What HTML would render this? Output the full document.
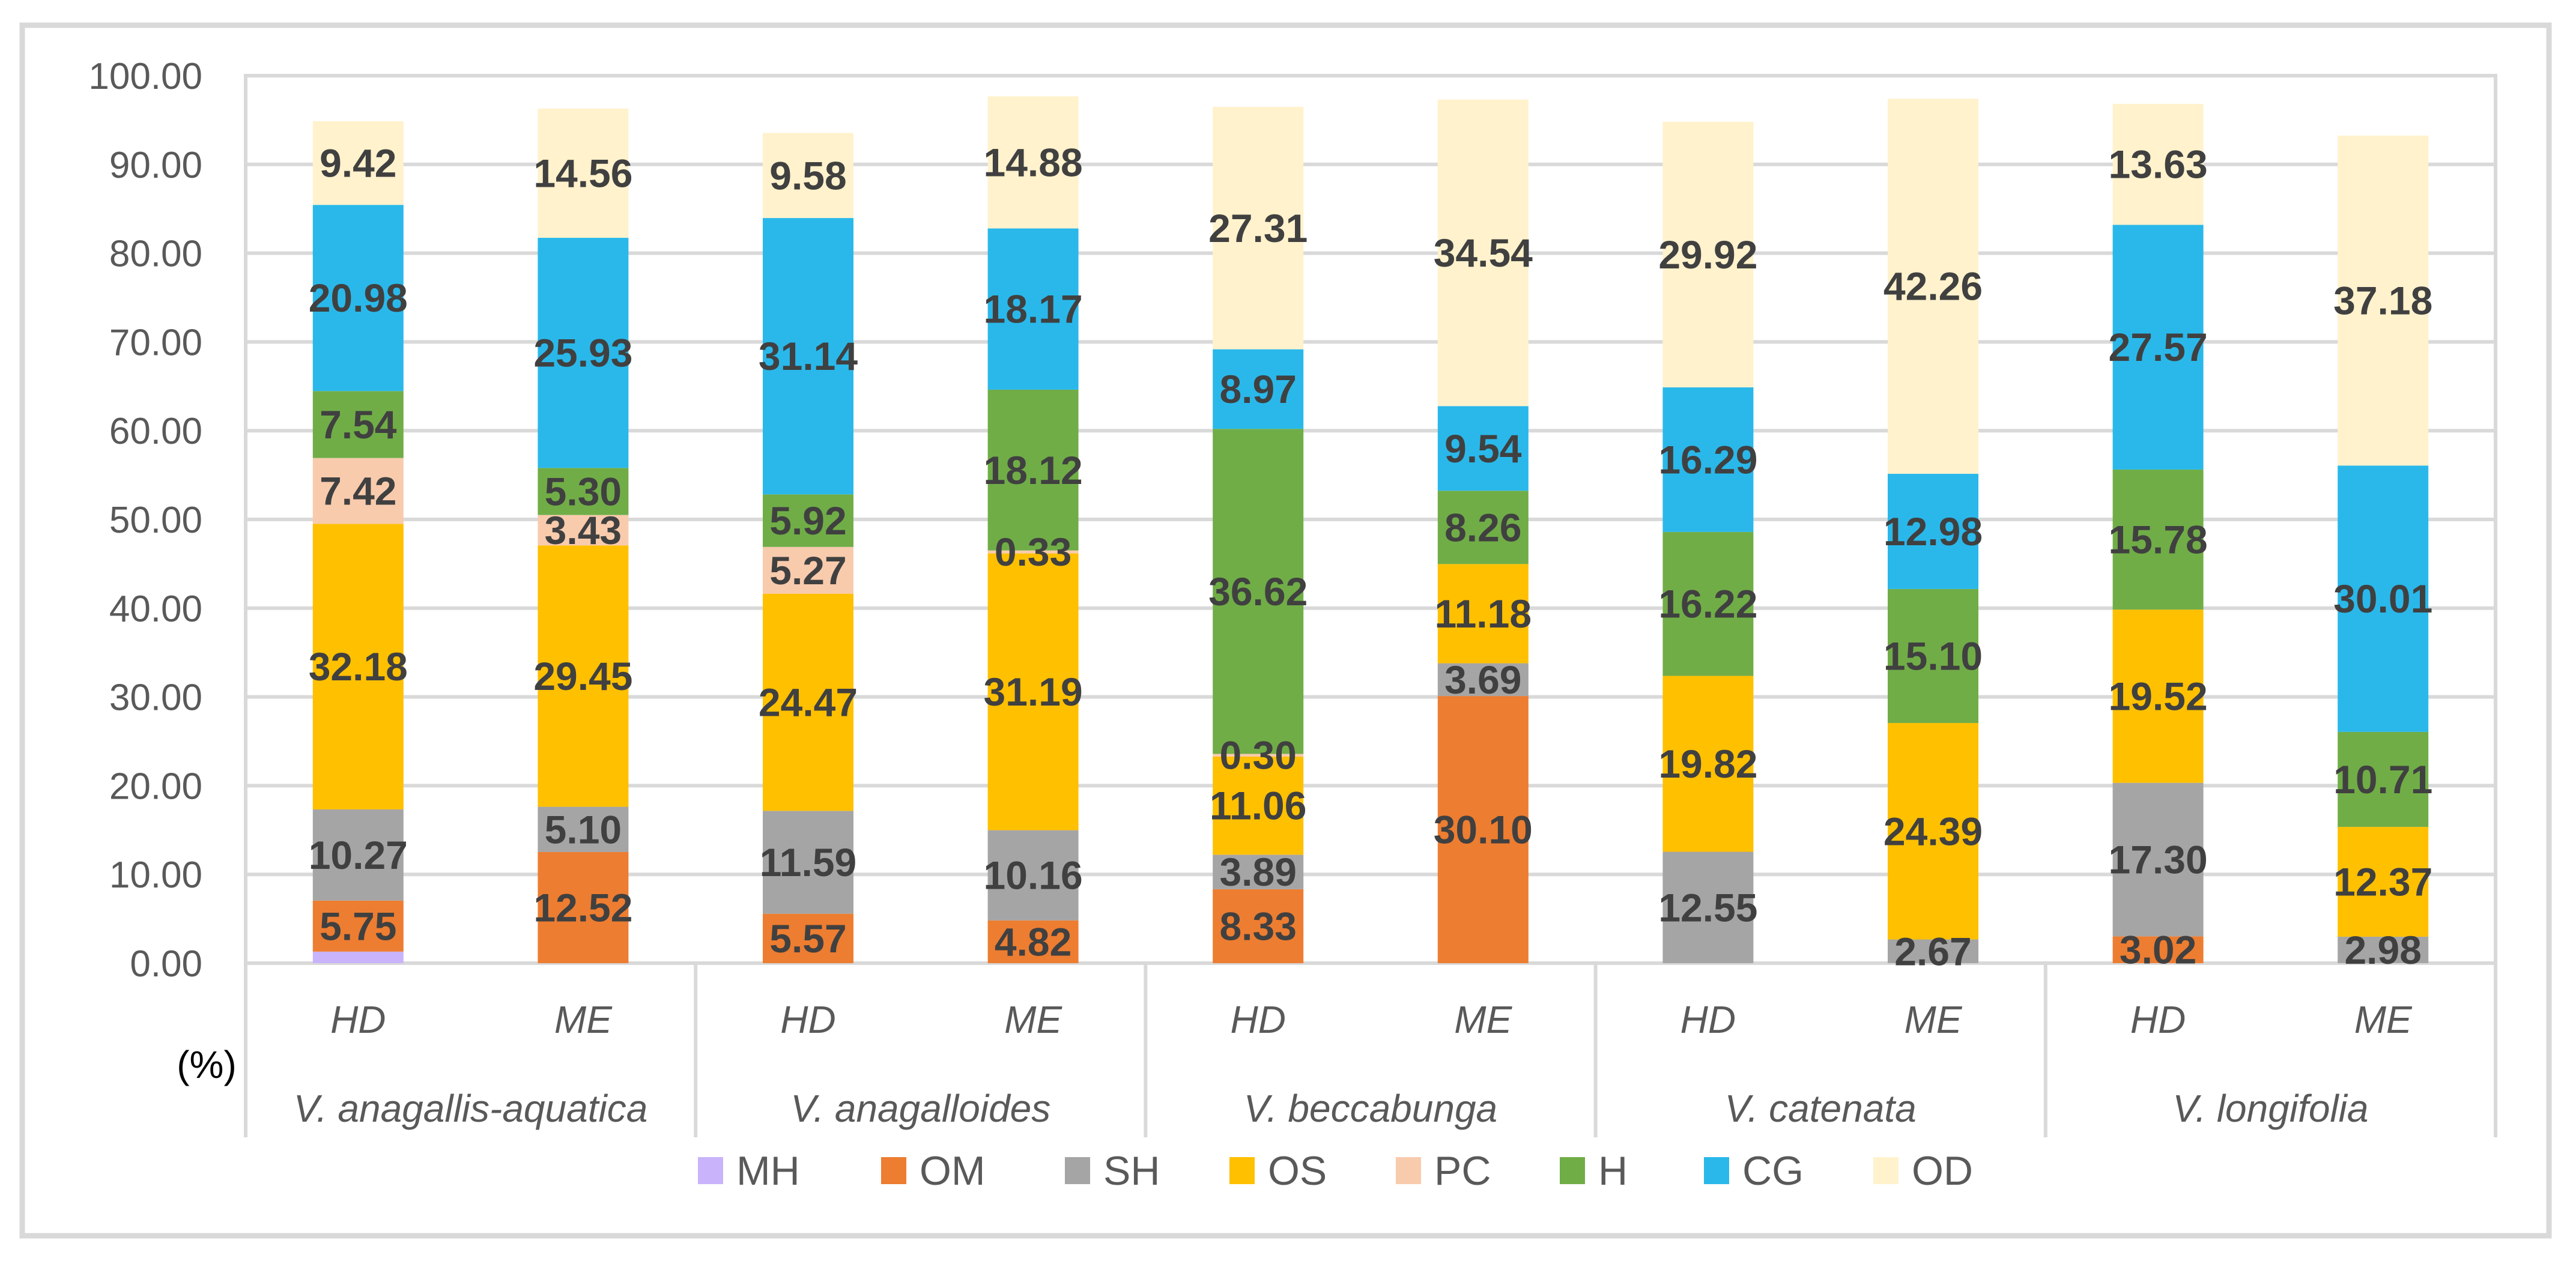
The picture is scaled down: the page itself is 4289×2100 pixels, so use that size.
<!DOCTYPE html>
<html><head><meta charset="utf-8"><style>
html,body{margin:0;padding:0;background:#fff;}
svg{display:block;font-family:"Liberation Sans",sans-serif;}
</style></head><body>
<svg id="chart" width="4289" height="2100" viewBox="0 0 4289 2100" xmlns="http://www.w3.org/2000/svg">
<rect x="37" y="42" width="4207" height="2016" fill="#fff" stroke="#d9d9d9" stroke-width="9"/>
<g id="grid"></g><g id="bars"></g><g id="labels"></g><g id="axes"></g><g id="legend"></g>
<text x="344" y="1795" font-size="64" fill="#000" text-anchor="middle">(%)</text>
</svg>
<script>
const categories = ["HD","ME","HD","ME","HD","ME","HD","ME","HD","ME"];
const species = ["V. anagallis-aquatica","V. anagalloides","V. beccabunga","V. catenata","V. longifolia"];
const seriesNames = ["MH","OM","SH","OS","PC","H","CG","OD"];
const MH = [1.3,0,0,0,0,0,0,0,0,0];
const OM = [5.75,12.52,5.57,4.82,8.33,30.10,0,0,3.02,0];
const SH = [10.27,5.10,11.59,10.16,3.89,3.69,12.55,2.67,17.30,2.98];
const OS = [32.18,29.45,24.47,31.19,11.06,11.18,19.82,24.39,19.52,12.37];
const PC = [7.42,3.43,5.27,0.33,0.30,0,0,0,0,0];
const H  = [7.54,5.30,5.92,18.12,36.62,8.26,16.22,15.10,15.78,10.71];
const CG = [20.98,25.93,31.14,18.17,8.97,9.54,16.29,12.98,27.57,30.01];
const OD = [9.42,14.56,9.58,14.88,27.31,34.54,29.92,42.26,13.63,37.18];
const yTicks = [0,10,20,30,40,50,60,70,80,90,100];
const colors = ["#c9b3fb","#ed7d31","#a5a5a5","#ffc000","#f8cbad","#70ad47","#2ab8ea","#fff2cc"];
const series = [MH,OM,SH,OS,PC,H,CG,OD];
const labelled = [false,true,true,true,true,true,true,true];

const NS="http://www.w3.org/2000/svg";
const X0=409, X1=4155, Y0=1604, Y100=126;
const band=(X1-X0)/categories.length, barW=151;
const y=v=>Y0-(v/100)*(Y0-Y100);
const xc=i=>X0+band*(i+0.5);
function mk(tag,attrs,parent){const e=document.createElementNS(NS,tag);for(const k in attrs)e.setAttribute(k,attrs[k]);parent.appendChild(e);return e;}
const grid=document.getElementById('grid'),bars=document.getElementById('bars'),labels=document.getElementById('labels'),axes=document.getElementById('axes'),legend=document.getElementById('legend');

yTicks.forEach(t=>{
  const l=mk('line',{x1:X0,x2:X1,y1:y(t),y2:y(t),stroke:'#d9d9d9','stroke-width':6},grid);
  
  
  const tx=mk('text',{x:337,y:y(t)+22,'font-size':62,fill:'#595959','text-anchor':'end'},axes);
  tx.textContent=t.toFixed(2);
  
  
});
// plot borders
const lb=mk('line',{x1:X0,x2:X0,y1:Y100-3,y2:1894,stroke:'#d9d9d9','stroke-width':6},grid);


const rb=mk('line',{x1:X1,x2:X1,y1:Y100-3,y2:1894,stroke:'#d9d9d9','stroke-width':6},grid);


for(let g=1;g<species.length;g++){
  const sx=X0+band*2*g;
  const s=mk('line',{x1:sx,x2:sx,y1:Y0,y2:1894,stroke:'#d9d9d9','stroke-width':6},grid);
  
  
}
categories.forEach((c,i)=>{
  let base=0;
  series.forEach((s,k)=>{
    const v=s[i]; if(!v) return;
    const r=mk('rect',{x:xc(i)-barW/2,y:y(base+v),width:barW,height:y(base)-y(base+v),fill:colors[k]},bars);
    
    
    if(labelled[k]){
      const t=mk('text',{x:xc(i),y:(y(base)+y(base+v))/2+23,'font-size':66,'font-weight':'bold',fill:'#404040','text-anchor':'middle'},labels);
      t.textContent=v.toFixed(2);
      
      
    }
    base+=v;
  });
  const t=mk('text',{x:xc(i),y:1720,'font-size':64,'font-style':'italic',fill:'#595959','text-anchor':'middle'},axes);
  t.textContent=c;
  
  
});
species.forEach((sp,g)=>{
  const t=mk('text',{x:X0+band*(2*g+1),y:1868,'font-size':64,'font-style':'italic',fill:'#595959','text-anchor':'middle'},axes);
  t.textContent=sp;
  
  
});
const legX=[1162,1467,1773,2047,2324,2597,2837,3119];
seriesNames.forEach((n,k)=>{
  const g=mk('g',{},legend);
  
  
  mk('rect',{x:legX[k],y:1927,width:42,height:45,fill:colors[k]},g);
  const t=mk('text',{x:legX[k]+64,y:1973,'font-size':68,fill:'#595959'},g);
  t.textContent=n;
});
</script>
</body></html>
